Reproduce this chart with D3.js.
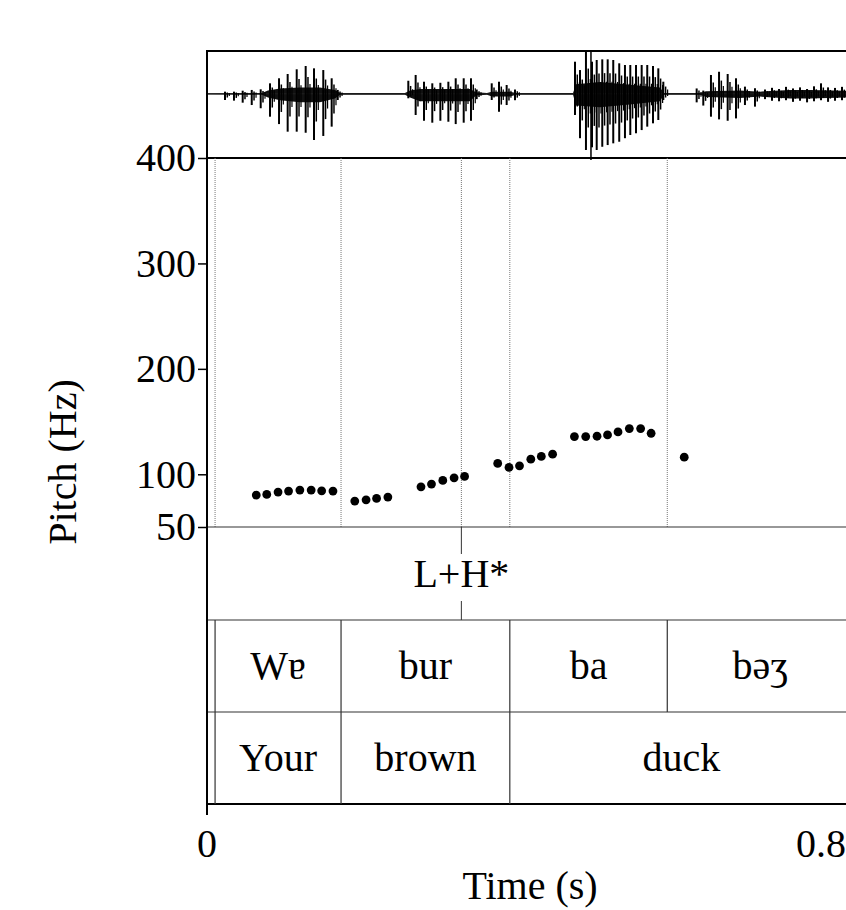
<!DOCTYPE html>
<html>
<head>
<meta charset="utf-8">
<script src="https://cdn.jsdelivr.net/npm/d3@7"></script>
<style>
  body { margin: 0; background: #fff; }
  text { font-family: "Liberation Serif", "DejaVu Serif", serif; fill: #000; }
</style>
</head>
<body>
<script>
// Pitch track (s, Hz)
const pitchTimes = [0.061, 0.074, 0.088, 0.101, 0.115, 0.129, 0.142, 0.156,
    0.183, 0.197, 0.210, 0.224,
    0.265, 0.278, 0.292, 0.306, 0.319,
    0.360, 0.374, 0.387, 0.401, 0.414, 0.428,
    0.455, 0.469, 0.483, 0.496, 0.509, 0.523, 0.537, 0.550,
    0.591];
const pitchHz = [80.3, 80.9, 83.1, 84.1, 85.0, 85.0, 84.3, 84.1,
    74.6, 75.8, 77.1, 78.4,
    88.1, 90.7, 94.2, 96.6, 98.0,
    110.3, 106.5, 108.0, 114.3, 116.9, 119.1,
    135.8, 135.8, 136.1, 137.3, 140.2, 143.4, 143.4, 138.9,
    116.2];
const pitchTicks = [50, 100, 200, 300, 400];

// Waveform: pulses / noise peaks (time, max, min)
const waveT = [0.0223, 0.0334, 0.0442, 0.0554, 0.0665, 0.0780, 0.0892, 0.0999, 0.1111, 0.1222, 0.1325, 0.1440, 0.1544, 0.1619,
    0.2493, 0.2584, 0.2687, 0.2790, 0.2890, 0.2989, 0.3080, 0.3179, 0.3269, 0.3340,
    0.3526, 0.3616, 0.3711, 0.3814,
    0.4557, 0.4619, 0.4693, 0.4768, 0.4826, 0.4895, 0.4962, 0.5031, 0.5105, 0.5176, 0.5242, 0.5313, 0.5383, 0.5452, 0.5523, 0.5589, 0.5651,
    0.6064, 0.6146, 0.6241, 0.6341, 0.6448, 0.6551, 0.6662, 0.6786,
    0.6910, 0.6997, 0.7084, 0.7170, 0.7257, 0.7344, 0.7431, 0.7517, 0.7604, 0.7691, 0.7777, 0.7864, 0.7950];
const waveHi = [0.020, 0.020, 0.029, 0.036, 0.042, 0.098, 0.145, 0.185, 0.229, 0.260, 0.238, 0.222, 0.145, 0.036,
    0.122, 0.176, 0.113, 0.098, 0.103, 0.113, 0.145, 0.145, 0.145, 0.040,
    0.098, 0.113, 0.082, 0.040,
    0.300, 0.222, 0.393, 0.300, 0.316, 0.322, 0.322, 0.316, 0.285, 0.269, 0.269, 0.269, 0.269, 0.269, 0.260, 0.238, 0.113,
    0.050, 0.030, 0.176, 0.206, 0.185, 0.145, 0.067, 0.052,
    0.040, 0.056, 0.045, 0.065, 0.050, 0.060, 0.045, 0.070, 0.098, 0.060, 0.055, 0.065, 0.045];
const waveLo = [-0.058, -0.064, -0.083, -0.105, -0.135, -0.214, -0.283, -0.354, -0.354, -0.364, -0.432, -0.394, -0.307, -0.058,
    -0.042, -0.198, -0.252, -0.270, -0.252, -0.261, -0.283, -0.270, -0.252, -0.050,
    -0.058, -0.168, -0.105, -0.060,
    -0.198, -0.415, -0.525, -0.500, -0.525, -0.495, -0.479, -0.463, -0.448, -0.415, -0.385, -0.369, -0.339, -0.307, -0.276, -0.245, -0.058,
    -0.080, -0.110, -0.214, -0.239, -0.252, -0.230, -0.105, -0.120,
    -0.050, -0.065, -0.070, -0.060, -0.075, -0.065, -0.080, -0.070, -0.060, -0.075, -0.065, -0.060, -0.050];

// Waveform: dense envelope (time, upper, lower)
const coreT = [0, 0.0681, 0.0755, 0.0904, 0.1152, 0.1399, 0.1585, 0.1647, 0.2452, 0.2514, 0.2638, 0.3257, 0.3331, 0.3467,
    0.3529, 0.3752, 0.3827, 0.4533, 0.4570, 0.4867, 0.5238, 0.5610, 0.5659, 0.6105, 0.6180, 0.6601, 0.6848, 0.6910,
    0.7220, 0.7467, 0.7913, 0.8];
const coreHi = [0.006, 0.008, 0.030, 0.050, 0.060, 0.060, 0.035, 0.008, 0.008, 0.030, 0.045, 0.045, 0.015, 0.008,
    0.020, 0.020, 0.008, 0.008, 0.090, 0.110, 0.085, 0.060, 0.008, 0.008, 0.025, 0.030, 0.020, 0.025,
    0.035, 0.035, 0.028, 0.028];
const coreLo = [-0.006, -0.008, -0.035, -0.060, -0.080, -0.080, -0.045, -0.008, -0.008, -0.035, -0.070, -0.070, -0.015, -0.008,
    -0.025, -0.025, -0.008, -0.008, -0.110, -0.125, -0.100, -0.070, -0.008, -0.008, -0.030, -0.040, -0.025, -0.030,
    -0.045, -0.045, -0.035, -0.035];
const cursorTime = 0.4755;

// TextGrid tiers
const toneTimes = [0.315];
const toneLabels = ["L+H*"];
const sylBounds = [0, 0.01, 0.166, 0.375, 0.57, 0.8];
const sylLabels = ["", "Wɐ", "bur", "ba", "bəʒ"];
const wordBounds = [0, 0.01, 0.166, 0.375, 0.8];
const wordLabels = ["", "Your", "brown", "duck"];
const timeTicks = ["0", "0.8"];

const W = 846, H = 910;
const svg = d3.select("body").append("svg")
    .attr("width", W)
    .attr("height", H);

const left = 207;
const waveTop = 51, waveBot = 158;
const pitchBot = 527;
const tierH = [527, 620, 712, 804];

const x = d3.scaleLinear().domain([0, 0.8]).range([left, 853]);
const yPitch = d3.scaleLinear().domain([50, 400]).range([pitchBot, waveBot]);
const yWave = d3.scaleLinear().domain([-0.6, 0.4]).range([waveBot, waveTop]);

// Waveform
const core = d3.range(coreT.length).map(i => ({ t: coreT[i], hi: coreHi[i], lo: coreLo[i] }));
svg.append("path")
    .datum(core)
    .attr("d", d3.area().x(d => x(d.t)).y0(d => yWave(d.lo)).y1(d => yWave(d.hi)))
    .attr("fill", "#111");

svg.append("line")
    .attr("x1", x(0)).attr("x2", x(0.8))
    .attr("y1", yWave(0)).attr("y2", yWave(0))
    .attr("stroke", "#222").attr("stroke-width", 1);

const pulses = d3.range(waveT.length).map(i => ({ t: waveT[i], hi: waveHi[i], lo: waveLo[i] }));
// main spike and two decaying echoes of each pulse
const echoes = [{ dx: 0, k: 1, w: 2 }, { dx: 2.3, k: 0.6, w: 1.5 }, { dx: 4.3, k: 0.35, w: 1.2 }];
echoes.forEach(e => {
    svg.append("g").selectAll("line")
        .data(pulses)
        .join("line")
        .attr("x1", d => x(d.t) + e.dx).attr("x2", d => x(d.t) + e.dx)
        .attr("y1", d => yWave(d.hi * e.k)).attr("y2", d => yWave(d.lo * e.k))
        .attr("stroke", "#000")
        .attr("stroke-width", e.w);
});

svg.append("line")
    .attr("x1", x(cursorTime)).attr("x2", x(cursorTime))
    .attr("y1", waveTop).attr("y2", waveBot + 2)
    .attr("stroke", "#000").attr("stroke-width", 1.5);

// Waveform frame
svg.append("rect")
    .attr("x", left).attr("y", waveTop)
    .attr("width", x(0.8) - left).attr("height", waveBot - waveTop)
    .attr("fill", "none").attr("stroke", "#000").attr("stroke-width", 2);

// Dotted boundaries in pitch area
const allBounds = [sylBounds[1], sylBounds[2], toneTimes[0], sylBounds[3], sylBounds[4]];
svg.append("g").selectAll("line")
    .data(allBounds)
    .join("line")
    .attr("x1", d => x(d)).attr("x2", d => x(d))
    .attr("y1", waveBot).attr("y2", pitchBot)
    .attr("stroke", "#777")
    .attr("stroke-width", 1)
    .attr("stroke-dasharray", "1,1");

// Pitch points
svg.append("g").selectAll("circle")
    .data(pitchTimes.map((t, i) => ({ t: t, f: pitchHz[i] })))
    .join("circle")
    .attr("cx", d => x(d.t))
    .attr("cy", d => yPitch(d.f))
    .attr("r", 4.4)
    .attr("fill", "#000");

// Left pitch axis
const yAxis = d3.axisLeft(yPitch).tickValues(pitchTicks).tickSize(9).tickPadding(2);
const ga = svg.append("g").attr("transform", "translate(" + left + ",0)").call(yAxis);
ga.select(".domain").remove();
ga.selectAll(".tick line").attr("stroke", "#000").attr("stroke-width", 1.5);
ga.selectAll(".tick text").attr("font-size", "40px")
    .attr("font-family", "Liberation Serif, DejaVu Serif, serif");

svg.append("text")
    .attr("transform", "translate(76,462) rotate(-90)")
    .attr("text-anchor", "middle")
    .attr("font-size", "40px")
    .text("Pitch (Hz)");

// Tier horizontal lines
svg.append("g").selectAll("line")
    .data(tierH)
    .join("line")
    .attr("x1", left).attr("x2", x(0.8))
    .attr("y1", d => d).attr("y2", d => d)
    .attr("stroke", (d, i) => i === 3 ? "#000" : "#333")
    .attr("stroke-width", (d, i) => i === 3 ? 2 : 1.2);

// Tone tier (point tier)
const tone = svg.append("g");
toneTimes.forEach((t, i) => {
    tone.append("line")
        .attr("x1", x(t)).attr("x2", x(t))
        .attr("y1", tierH[0]).attr("y2", tierH[0] + 27)
        .attr("stroke", "#333").attr("stroke-width", 1);
    tone.append("line")
        .attr("x1", x(t)).attr("x2", x(t))
        .attr("y1", tierH[1] - 19).attr("y2", tierH[1])
        .attr("stroke", "#333").attr("stroke-width", 1);
    tone.append("text")
        .attr("x", x(t)).attr("y", (tierH[0] + tierH[1]) / 2 + 13)
        .attr("text-anchor", "middle")
        .attr("font-size", "40px")
        .text(toneLabels[i]);
});

// Interval tiers
function drawTier(bounds, labels, y0, y1) {
    const g = svg.append("g");
    g.selectAll("line")
        .data(bounds.slice(1, -1))
        .join("line")
        .attr("x1", d => x(d)).attr("x2", d => x(d))
        .attr("y1", y0).attr("y2", y1)
        .attr("stroke", "#333").attr("stroke-width", 1.2);
    g.selectAll("text")
        .data(labels)
        .join("text")
        .attr("x", (d, i) => (x(bounds[i]) + x(bounds[i + 1])) / 2)
        .attr("y", (y0 + y1) / 2 + 13)
        .attr("text-anchor", "middle")
        .attr("font-size", "40px")
        .text(d => d);
}
drawTier(sylBounds, sylLabels, tierH[1], tierH[2]);
drawTier(wordBounds, wordLabels, tierH[2], tierH[3]);

// Left frame line
svg.append("line")
    .attr("x1", left).attr("x2", left)
    .attr("y1", waveTop).attr("y2", tierH[3] + 11)
    .attr("stroke", "#000").attr("stroke-width", 2);

// Time labels
svg.append("text")
    .attr("x", x(0)).attr("y", 857)
    .attr("text-anchor", "middle")
    .attr("font-size", "40px")
    .text(timeTicks[0]);
svg.append("text")
    .attr("x", x(0.8) - 7).attr("y", 857)
    .attr("text-anchor", "end")
    .attr("font-size", "40px")
    .text(timeTicks[1]);

svg.append("text")
    .attr("x", 530).attr("y", 899)
    .attr("text-anchor", "middle")
    .attr("font-size", "40px")
    .text("Time (s)");
</script>
</body>
</html>
